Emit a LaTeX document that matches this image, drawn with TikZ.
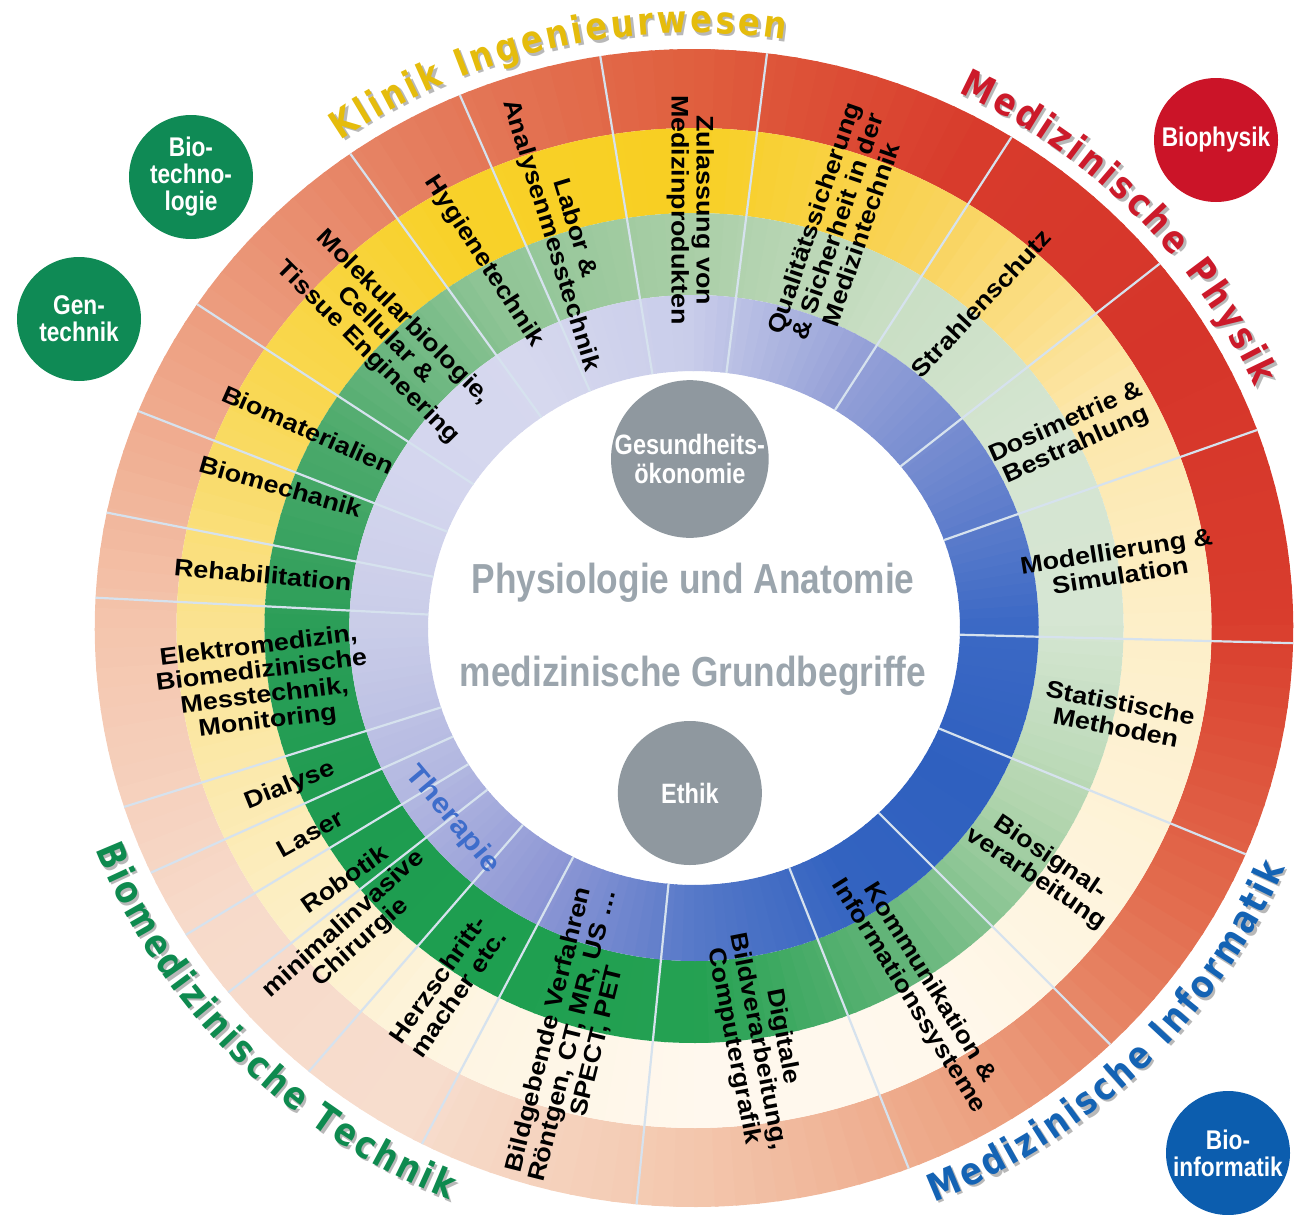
\documentclass[tikz,border=0pt]{standalone}
\usepackage{fontspec}
\setmainfont{Liberation Sans}
\newfontfamily\labelfont{Liberation Sans}[FakeStretch=1.12]
\newfontfamily\condfont{Liberation Sans}[FakeStretch=0.84]
\newfontfamily\titlefont{DejaVu Sans}[FakeStretch=0.85]
\newcommand\arcfont{\titlefont\bfseries\fontsize{19}{19}\selectfont}
\usetikzlibrary{decorations.text}

% outer ring
\definecolor{oc0}{HTML}{D93D2D}\definecolor{oc30}{HTML}{D6352A}\definecolor{oc60}{HTML}{D83B2C}
\definecolor{oc90}{HTML}{E0603F}\definecolor{oc120}{HTML}{E57F60}\definecolor{oc150}{HTML}{EEA385}
\definecolor{oc180}{HTML}{F4C6AE}\definecolor{oc210}{HTML}{F7DACA}\definecolor{oc240}{HTML}{F7DDCD}
\definecolor{oc270}{HTML}{F3C6AC}\definecolor{oc300}{HTML}{ECA07F}\definecolor{oc330}{HTML}{E26A4C}
\definecolor{oc360}{HTML}{D93D2D}
% yellow ring
\definecolor{yc0}{HTML}{FDEFC8}\definecolor{yc30}{HTML}{FCE6A8}\definecolor{yc60}{HTML}{F9D35A}
\definecolor{yc90}{HTML}{F8CF22}\definecolor{yc120}{HTML}{F8D12A}\definecolor{yc150}{HTML}{F9D855}
\definecolor{yc180}{HTML}{FAE393}\definecolor{yc210}{HTML}{FCEDBE}\definecolor{yc240}{HTML}{FEF5E2}
\definecolor{yc270}{HTML}{FFF8EE}\definecolor{yc300}{HTML}{FFF8EC}\definecolor{yc330}{HTML}{FEF3DA}
\definecolor{yc360}{HTML}{FDEFC8}
% green ring
\definecolor{gc0}{HTML}{D6E6D3}\definecolor{gc30}{HTML}{D5E5D1}\definecolor{gc60}{HTML}{C8DEC3}
\definecolor{gc90}{HTML}{A9CEA6}\definecolor{gc120}{HTML}{8EC495}\definecolor{gc150}{HTML}{4DAA6C}
\definecolor{gc180}{HTML}{2A9D57}\definecolor{gc210}{HTML}{1E9C50}\definecolor{gc240}{HTML}{1E9F50}
\definecolor{gc270}{HTML}{25A152}\definecolor{gc300}{HTML}{62B478}\definecolor{gc330}{HTML}{B2D5AE}
\definecolor{gc360}{HTML}{D6E6D3}
% blue ring
\definecolor{bc0}{HTML}{3C69C5}\definecolor{bc30}{HTML}{6C86CE}\definecolor{bc60}{HTML}{97A2D8}
\definecolor{bc90}{HTML}{C9CDEA}\definecolor{bc120}{HTML}{D6D8EE}\definecolor{bc150}{HTML}{D4D6EE}
\definecolor{bc180}{HTML}{C9CCE8}\definecolor{bc210}{HTML}{B3B8E1}\definecolor{bc240}{HTML}{8E97D5}
\definecolor{bc270}{HTML}{5578C8}\definecolor{bc300}{HTML}{3363C0}\definecolor{bc330}{HTML}{2F60BF}
\definecolor{bc360}{HTML}{3C69C5}

\definecolor{klinikgelb}{HTML}{E5BC0C}
\definecolor{physikrot}{HTML}{CC1A2A}
\definecolor{infoblau}{HTML}{1463B4}
\definecolor{technikgruen}{HTML}{0E8A4F}
\definecolor{titleshadow}{HTML}{B8B8B8}
\definecolor{discgray}{HTML}{8F989F}
\definecolor{centergray}{HTML}{9BA5AD}
\definecolor{therapieblau}{HTML}{3E6DCB}
\definecolor{biogruen}{HTML}{0F8A55}
\definecolor{biorot}{HTML}{CB1428}
\definecolor{bioblau}{HTML}{0C5DAE}
\definecolor{divline}{HTML}{D6E2EE}

\tikzset{
  lbl/.style={font=\labelfont\bfseries\fontsize{12}{12.5}\selectfont, align=center, inner sep=0pt},
  divider/.style={draw=divline, line width=1.1pt},
  graydisc/.style={circle, fill=discgray, text=white, align=center, inner sep=0pt,
    minimum size=72pt, font=\condfont\bfseries\fontsize{14}{14.5}\selectfont},
  bubble/.style={circle, text=white, align=center, inner sep=0pt,
    minimum size=62pt, font=\condfont\bfseries\fontsize{13.5}{13.5}\selectfont},
  centertxt/.style={text=centergray, inner sep=0pt, font=\condfont\bfseries\fontsize{21}{21}\selectfont},
  arctitle/.style={decorate, decoration={text along path, text align={fit to path}, text={#1}}}
}

\begin{document}
\begin{tikzpicture}[x=0.5pt,y=0.5pt,yscale=-1,xscale=1]
\useasboundingbox (0,0) rectangle (1296,1215);

%Rings [center 694,628]
\begin{scope}[shift={(694,628)}, xscale=1.035, yscale=-1]
\foreach \rin/\rout/\pre in {500/579/oc, 415/500/yc, 333/415/gc, 257/333/bc} {
  \foreach \a in {0,30,...,330} {
    \pgfmathtruncatemacro\b{\a+30}
    \foreach \k in {0,...,14} {
      \pgfmathsetmacro\s{\a+2*\k}
      \pgfmathsetmacro\e{\s+2.3}
      \pgfmathtruncatemacro\p{100-100*\k/15}
      \colorlet{wedgecol}{\pre\a!\p!\pre\b}
      \fill[wedgecol] (\s:\rin) arc[start angle=\s, end angle=\e, radius=\rin]
        -- (\e:\rout) arc[start angle=\e, end angle=\s, radius=\rout] -- cycle;
    }
  }
}

%Straight Lines [dividers]
\foreach \d in {83,99,113,125,146,158,168.5,177,198,205,212,219,230,243,264.5,291,314,337,358.5,20,39,58}
  \draw[divider] (\d:257) -- (\d:579);

% Text Node
\node[lbl, rotate=-90] (zulassung) at (90.5:418) {Zulassung von\\Medizinprodukten};
% Text Node
\node[lbl, rotate=71] (qualitaet) at (71:425) {Qualitätssicherung\\\& Sicherheit in der\\Medizintechnik};
% Text Node
\node[lbl, rotate=47] (strahlen) at (49.5:427) {Strahlenschutz};
% Text Node
\node[lbl, rotate=24] (dosimetrie) at (28:413) {Dosimetrie \&\\Bestrahlung};
% Text Node
\node[lbl, rotate=9] (modell) at (9:415) {Modellierung \&\\Simulation};
% Text Node
\node[lbl, rotate=-11] (statistik) at (-12:419) {Statistische\\Methoden};
% Text Node
\node[lbl, rotate=-34] (biosignal) at (-35.5:414) {Biosignal-\\verarbeitung};
% Text Node
\node[lbl, rotate=-58] (kommunikation) at (-59:422) {Kommunikation \&\\Informationssysteme};
% Text Node
\node[lbl, rotate=-79] (digital) at (-81.5:418) {Digitale\\Bildverarbeitung,\\Computergrafik};
% Text Node
\node[lbl, rotate=76] (bildgebung) at (254:424) {Bildgebende Verfahren\\Röntgen, CT, MR, US \dots\\SPECT, PET};
% Text Node
\node[lbl, rotate=55] (herz) at (236.4:430) {Herzschritt-\\macher etc.};
% Text Node
\node[lbl, rotate=42] (minimal) at (222.8:450) {minimalinvasive\\Chirurgie};
% Text Node
\node[lbl, rotate=35] (robotik) at (216.6:421) {Robotik};
% Text Node
\node[lbl, rotate=29] (laser) at (209:424) {Laser};
% Text Node
\node[lbl, rotate=22] (dialyse) at (202:421) {Dialyse};
% Text Node
\node[lbl, rotate=7] (elektro) at (187.7:420) {Elektromedizin,\\Biomedizinische\\Messtechnik,\\Monitoring};
% Text Node
\node[lbl, rotate=-5] (reha) at (172.7:420) {Rehabilitation};
% Text Node
\node[lbl, rotate=-16] (biomech) at (160.5:424) {Biomechanik};
% Text Node
\node[lbl, rotate=-24] (biomat) at (152:422) {Biomaterialien};
% Text Node
\node[lbl, rotate=-45] (molekular) at (135.5:418) {Molekularbiologie,\\Cellular \&\\Tissue Engineering};
% Text Node
\node[lbl, rotate=-57] (hygiene) at (119:419) {Hygienetechnik};
% Text Node
\node[lbl, rotate=-73] (labor) at (107.8:416) {Labor \&\\Analysenmesstechnik};

% Text Node
\node[lbl, rotate=-50, text=therapieblau, font=\labelfont\bfseries\fontsize{14}{14}\selectfont] (therapie) at (219.4:302) {Therapie};

%Center
\node[graydisc] (gesundheit) at (-4,169) {Gesundheits-\\ökonomie};
\node[graydisc] (ethik) at (-4,-165) {Ethik};
\node[centertxt] (physiologie) at (-1,45) {Physiologie und Anatomie};
\node[centertxt] (grundbegriffe) at (-1,-48) {medizinische Grundbegriffe};
\end{scope}

%Arc titles, shadow first
\foreach \dx/\dy/\sh in {2.5/-2.5/1, 0/0/0} {
\begin{scope}[shift={(694+\dx,628-\dy)}, yscale=-1]
\ifnum\sh=1
  \def\kcol{titleshadow}\def\pcol{titleshadow}\def\icol{titleshadow}\def\tcol{titleshadow}
\else
  \def\kcol{klinikgelb}\def\pcol{physikrot}\def\icol{infoblau}\def\tcol{technikgruen}
\fi
\path[arctitle={|\arcfont\color{\kcol}|Klinik Ingenieurwesen}]
  (125:616 and 595) arc[start angle=125, end angle=81.5, x radius=616, y radius=595];
\path[arctitle={|\arcfont\color{\pcol}|Medizinische Physik}]
  (64.5:614 and 593) arc[start angle=64.5, end angle=24, x radius=614, y radius=593];
\path[arctitle={|\arcfont\color{\icol}|Medizinische Informatik}]
  (-68:641 and 619) arc[start angle=-68, end angle=-22.8, x radius=641, y radius=619];
\path[arctitle={|\arcfont\color{\tcol}|Biomedizinische Technik}]
  (201:641 and 619) arc[start angle=201, end angle=247.5, x radius=641, y radius=619];
\end{scope}
}

%Bubbles
\node[bubble, fill=biogruen] (biotech) at (191,177) {Bio-\\techno-\\logie};
\node[bubble, fill=biogruen] (gentech) at (79,319) {Gen-\\technik};
\node[bubble, fill=biorot] (biophysik) at (1216,140) {Biophysik};
\node[bubble, fill=bioblau] (bioinfo) at (1228,1153) {Bio-\\informatik};
\end{tikzpicture}
\end{document}
